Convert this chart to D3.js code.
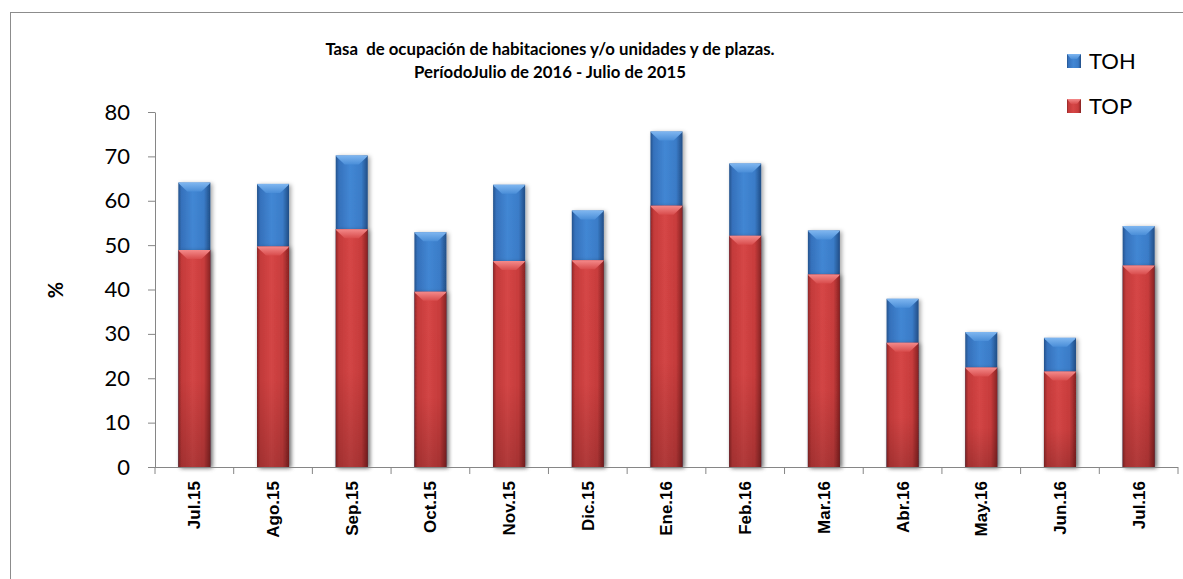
<!DOCTYPE html>
<html><head><meta charset="utf-8">
<script src="https://cdn.jsdelivr.net/npm/d3@7/dist/d3.min.js"></script>
<style>html,body{margin:0;padding:0;background:#fff;}svg{display:block;}</style>
</head><body>
<svg id="chart" width="1183" height="579"></svg>
<script>
const categories = ["Jul.15","Ago.15","Sep.15","Oct.15","Nov.15","Dic.15","Ene.16","Feb.16","Mar.16","Abr.16","May.16","Jun.16","Jul.16"];
const toh = [64.1, 63.8, 70.2, 52.9, 63.6, 57.8, 75.6, 68.4, 53.3, 37.9, 30.4, 29.1, 54.3];
const top_ = [48.9, 49.7, 53.6, 39.5, 46.4, 46.6, 58.9, 52.1, 43.4, 28.0, 22.4, 21.5, 45.4];
const yTicks = [0,10,20,30,40,50,60,70,80];
const seriesNames = ["TOH","TOP"];
const titleLines = ["Tasa  de ocupación de habitaciones y/o unidades y de plazas.", "PeríodoJulio de 2016 - Julio de 2015"];

const svg = d3.select("#chart");
const L = 155, R = 1178, T = 112, B = 467;

const defs = svg.append("defs");
function grad(id, stops, vertical){
  const g = defs.append("linearGradient").attr("id", id)
    .attr("x1","0").attr("y1","0").attr("x2", vertical?"0":"1").attr("y2", vertical?"1":"0");
  stops.forEach(s => g.append("stop").attr("offset", s[0]).attr("stop-color", s[1]).attr("stop-opacity", s[2]===undefined?1:s[2]));
}
grad("gBlue", [["0%","#24528c"],["10%","#3571bc"],["45%","#4287d4"],["80%","#3a7cc8"],["100%","#214d85"]]);
grad("gRed", [["0%","#8e2626"],["10%","#c43a3a"],["45%","#d64646"],["80%","#c83c3c"],["100%","#862222"]]);
grad("gShade", [["0%","#000",0],["60%","#000",0.02],["100%","#000",0.18]], true);
grad("gBlueTop", [["0%","#7fb6f0"],["100%","#4a8ed8"]], true);
grad("gRedTop", [["0%","#f48a8a"],["100%","#d84c4c"]], true);
const f = defs.append("filter").attr("id","shadow").attr("x","-30%").attr("y","-10%").attr("width","160%").attr("height","130%");
f.append("feDropShadow").attr("dx",2).attr("dy",1).attr("stdDeviation",2).attr("flood-color","#000").attr("flood-opacity",0.35);

// outer border
svg.append("rect").attr("x",10.5).attr("y",12.5).attr("width",1190).attr("height",600)
  .attr("fill","none").attr("stroke","#8c8c8c").attr("stroke-width",1);

const x = d3.scaleBand().domain(categories).range([L, R]).paddingInner(0.593).paddingOuter(0.2965);
const y = d3.scaleLinear().domain([0, 80]).range([B, T]);
const bw = x.bandwidth();

// y axis
const yAxis = svg.append("g").attr("transform", `translate(${L},0)`)
  .call(d3.axisLeft(y).tickValues(yTicks).tickSize(7).tickSizeOuter(0).tickPadding(18));
yAxis.select(".domain").attr("stroke","#868686");
yAxis.selectAll(".tick line").attr("stroke","#868686");
yAxis.selectAll(".tick text").attr("font-family","Lato, 'Open Sans', sans-serif").attr("font-size",22).attr("fill","#000");

// bars
function drawBars(vals, fill, topFill){
  const g = svg.append("g");
  const sel = g.selectAll("g.bar").data(categories.map((c,i)=>({c, v: vals[i]}))).join("g").attr("class","bar");
  sel.append("rect").attr("x", d=>x(d.c)).attr("y", d=>y(d.v)).attr("width", bw).attr("height", d=>B - y(d.v))
    .attr("fill", fill).attr("filter","url(#shadow)");
  sel.append("rect").attr("x", d=>x(d.c)).attr("y", d=>y(d.v)).attr("width", bw).attr("height", d=>B - y(d.v))
    .attr("fill", "url(#gShade)");
  sel.append("path").attr("d", d => {
      const x0 = x(d.c), y0 = y(d.v);
      return `M${x0},${y0} L${x0+bw},${y0} L${x0+bw-1},${y0+1.5} L${x0+bw*0.72},${y0+9} L${x0+bw*0.28},${y0+9} L${x0+1},${y0+1.5} Z`;
    }).attr("fill", topFill);
}
drawBars(toh, "url(#gBlue)", "url(#gBlueTop)");
drawBars(top_, "url(#gRed)", "url(#gRedTop)");

// x axis
svg.append("line").attr("x1",L-7).attr("x2",R).attr("y1",B+0.5).attr("y2",B+0.5).attr("stroke","#868686");
const step = x.step();
const bounds = d3.range(categories.length+1).map(i => x.range()[0] + i*step);
svg.selectAll("line.xt").data(bounds).join("line").attr("class","xt")
  .attr("x1", d=>d).attr("x2", d=>d).attr("y1", B).attr("y2", B+7).attr("stroke","#868686");
const xAxis = svg.append("g").attr("transform", `translate(0,${B})`)
  .call(d3.axisBottom(x).tickSize(0).tickSizeOuter(0));
xAxis.select(".domain").remove();
xAxis.selectAll(".tick text")
  .attr("font-family","'Liberation Sans', Arial, sans-serif").attr("font-weight","bold").attr("font-size",17).attr("fill","#000")
  .attr("transform","rotate(-90)").attr("text-anchor","end").attr("dx",-14).attr("dy","0.35em").attr("x",0).attr("y",0);

// y label
svg.append("text").attr("transform","translate(63,290) rotate(-90)").attr("text-anchor","middle")
  .attr("font-family","Lato, sans-serif").attr("font-weight","bold").attr("font-size",20).text("%");

// title
svg.append("g").selectAll("text").data(titleLines).join("text")
  .attr("x", 550).attr("y", (d,i)=>55 + i*23).attr("text-anchor","middle")
  .style("white-space","pre").attr("xml:space","preserve")
  .attr("font-family","Lato, sans-serif").attr("font-weight","bold").attr("font-size",16.8).attr("fill","#000")
  .text(d=>d);

// legend
const leg = svg.append("g").selectAll("g").data(seriesNames).join("g")
  .attr("transform",(d,i)=>`translate(1067,${54 + i*45})`);
leg.append("rect").attr("width",14).attr("height",14).attr("fill",(d,i)=> i===0?"url(#gBlue)":"url(#gRed)");
leg.append("path").attr("d","M0,0 L14,0 L10,5 L4,5 Z").attr("fill",(d,i)=> i===0?"url(#gBlueTop)":"url(#gRedTop)");
leg.append("text").attr("x",22).attr("y",7).attr("dy","0.36em").attr("font-family","Lato, sans-serif").attr("font-size",22).attr("fill","#000").text(d=>d);
</script>
</body></html>
